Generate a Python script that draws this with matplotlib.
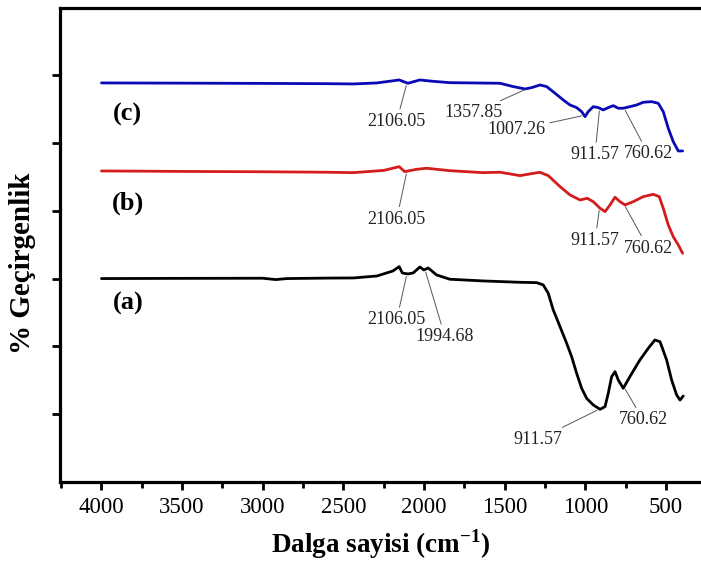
import numpy as np
import matplotlib
matplotlib.use("Agg")
import matplotlib.pyplot as plt
from matplotlib.ticker import MultipleLocator, FixedLocator, NullFormatter

plt.rcParams['font.family'] = ['Liberation Serif', 'DejaVu Serif']

# ---- data (wavenumber cm^-1, offset transmittance, arbitrary units) ----
wn_a = [4000, 3500, 3000, 2920, 2850, 2600, 2437, 2292, 2193, 2154, 2135, 2100, 2067,
        2026, 2001, 1974, 1922, 1840, 1634, 1405, 1302, 1261, 1230, 1199, 1157, 1116,
        1085, 1054, 1023, 992, 951, 909, 878, 858, 837, 816, 796, 765, 724, 662, 610,
        569, 537, 496, 465, 434, 413, 393]
tr_a = [3.000, 3.003, 3.005, 2.985, 3.000, 3.007, 3.009, 3.038, 3.112, 3.176, 3.083,
        3.068, 3.083, 3.171, 3.127, 3.156, 3.053, 2.990, 2.965, 2.945, 2.940, 2.906,
        2.783, 2.537, 2.291, 2.046, 1.848, 1.603, 1.382, 1.234, 1.136, 1.072, 1.111,
        1.308, 1.553, 1.627, 1.504, 1.382, 1.553, 1.799, 1.972, 2.094, 2.069, 1.799,
        1.504, 1.283, 1.209, 1.268]

wn_b = [4000, 3500, 3000, 2600, 2437, 2250, 2154, 2120, 2050, 1984, 1840, 1634, 1529,
        1405, 1282, 1230, 1157, 1095, 1033, 988, 951, 909, 878, 847, 816, 785, 754,
        703, 641, 579, 542, 517, 486, 455, 424, 397]
tr_b = [4.587, 4.580, 4.575, 4.568, 4.562, 4.595, 4.650, 4.577, 4.610, 4.627, 4.591,
        4.562, 4.568, 4.518, 4.568, 4.518, 4.356, 4.233, 4.159, 4.184, 4.134, 4.037,
        3.987, 4.086, 4.199, 4.134, 4.086, 4.134, 4.208, 4.243, 4.208, 4.037, 3.791,
        3.618, 3.496, 3.373]

wn_c = [4000, 3500, 3000, 2600, 2437, 2292, 2154, 2100, 2026, 1950, 1840, 1529, 1447,
        1374, 1333, 1281, 1240, 1188, 1137, 1095, 1054, 1023, 1002, 982, 951, 920, 889,
        858, 827, 796, 765, 724, 682, 641, 589, 548, 517, 486, 455, 424, 397]
tr_c = [5.885, 5.882, 5.878, 5.874, 5.870, 5.885, 5.929, 5.880, 5.929, 5.910, 5.889,
        5.880, 5.831, 5.796, 5.816, 5.855, 5.831, 5.733, 5.634, 5.560, 5.521, 5.462,
        5.388, 5.462, 5.535, 5.521, 5.487, 5.521, 5.550, 5.512, 5.512, 5.535, 5.560,
        5.600, 5.609, 5.585, 5.462, 5.217, 5.019, 4.882, 4.882]

x_ticks = [4000, 3500, 3000, 2500, 2000, 1500, 1000, 500]
series_labels = ['(a)', '(b)', '(c)']

# peak labels: (series index, label value)
peaks = [(2, 2106.05), (2, 1357.85), (2, 1007.26), (2, 911.57), (2, 760.62),
         (1, 2106.05), (1, 911.57), (1, 760.62),
         (0, 2106.05), (0, 1994.68), (0, 911.57), (0, 760.62)]

# ---- figure ----
fig = plt.figure(figsize=(7.01, 5.70), dpi=100)
ax = fig.add_axes([60/701, 1-482/570, 1-60/701, (482-8)/570])

series = [(wn_a, tr_a, 'black'), (wn_b, tr_b, '#d41c1c'), (wn_c, tr_c, '#0a0ab4')]
for w, t, c in series:
    ax.plot(w, t, color=c, lw=2.0, solid_joinstyle='round', solid_capstyle='round')

ax.set_xlim(4257, 283)
ax.set_ylim(0, 6.99)

ax.xaxis.set_major_locator(FixedLocator(x_ticks))
ax.xaxis.set_minor_locator(MultipleLocator(250))
ax.yaxis.set_major_locator(FixedLocator([1, 2, 3, 4, 5, 6]))
ax.yaxis.set_major_formatter(NullFormatter())
ax.tick_params(axis='x', which='major', direction='out', length=6, width=2.0,
               labelsize=16.5, pad=5)
ax.tick_params(axis='x', which='minor', direction='out', length=4, width=2.0)
ax.tick_params(axis='y', which='major', direction='out', length=6, width=2.0)
ax.tick_params(top=False, right=False)
ax.spines['right'].set_visible(False)
for s in ['left', 'bottom', 'top']:
    ax.spines[s].set_linewidth(2.3)

ax.set_xlabel('Dalga sayisi (cm$^{\\mathregular{-1}}$)', fontsize=19.5, fontweight='bold',
              labelpad=6)
fig.text(23/701, 1-263/570, '% Geçirgenlik', rotation=90, fontsize=21,
         fontweight='bold', ha='center', va='center')

# series labels
lab_pos = {'(c)': (3836, 5.42), '(b)': (3836, 4.115), '(a)': (3836, 2.64)}
for lab in series_labels:
    xx, yy = lab_pos[lab]
    ax.text(xx, yy, lab, fontsize=19, fontweight='bold', ha='center', va='center')

def px2data(px, py):
    return 4000 - (px - 101.5) / 0.1613, (482 - py) / 67.8

txt_px = [(396.7, 121.7), (474, 112.7), (516.7, 130), (595, 155), (648.3, 154),
          (396.7, 219.3), (595, 240.7), (648.3, 248.3),
          (396.7, 320), (445, 336.7), (538.3, 439.3), (643.3, 420)]

for (si, val), (tpx, tpy) in zip(peaks, txt_px):
    w, t, _ = series[si]
    w_arr = np.array(w)[::-1]
    t_arr = np.array(t)[::-1]
    yv = np.interp(val, w_arr, t_arr)
    tx, ty = px2data(tpx, tpy)
    ax.annotate(f'{val:.2f}', xy=(val, yv), xytext=(tx, ty), fontsize=13,
                ha='center', va='center', color='#222222',
                arrowprops=dict(arrowstyle='-', color='#555555', lw=0.7,
                                shrinkA=1, shrinkB=2))

fig.savefig('out.png', dpi=100)
